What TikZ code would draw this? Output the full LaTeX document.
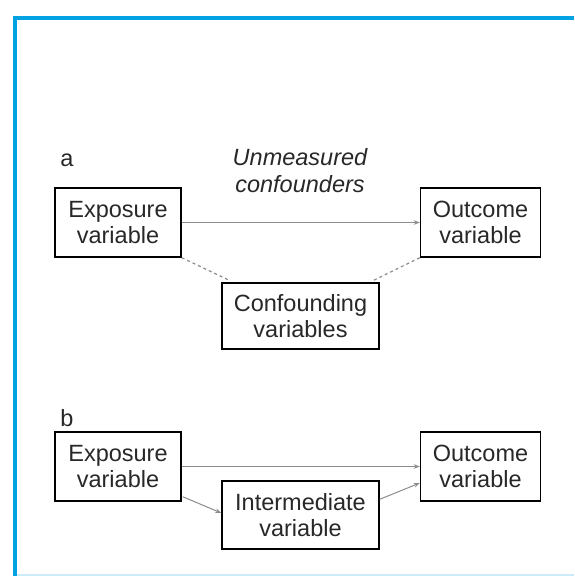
\documentclass[tikz,border=0pt]{standalone}
\usepackage{fontspec}
\setmainfont{Liberation Sans}
\usetikzlibrary{calc,arrows.meta}
\definecolor{frameblue}{RGB}{0,162,226}
\definecolor{framepale}{RGB}{205,236,250}
\definecolor{linkgray}{RGB}{140,140,140}
\definecolor{inkgray}{RGB}{40,40,40}
\tikzset{
  varbox/.style={draw=black, line width=1.4pt, align=center, inner sep=0pt,
    text=inkgray, font=\fontsize{23.5}{25.5}\selectfont},
  panellabel/.style={text=inkgray, font=\fontsize{23.5}{25.5}\selectfont, inner sep=0pt},
  link/.style={draw=linkgray, line width=1pt, -{Stealth[length=6pt,width=4.5pt]}},
  confoundlink/.style={draw=linkgray, line width=1.2pt, dash pattern=on 3pt off 3pt}
}
\begin{document}
\begin{tikzpicture}[x=1pt, y=-1pt]
  \useasboundingbox (0,0) rectangle (574,576);
  \fill[white] (0,0) rectangle (574,576);
  % frame
  \fill[frameblue] (13,16) rectangle (574,20);
  \fill[frameblue] (13,16) rectangle (17,576);
  \fill[framepale] (17,573.5) rectangle (574,576);

  % panel a
  \node[panellabel] (la) at (67,160) {a};
  \node[panellabel, align=center, font=\fontsize{23.5}{27}\selectfont\itshape] (um) at (300,171) {Unmeasured\\confounders};
  \node[varbox, minimum width=126pt, minimum height=69pt] (ea) at (118,222.5) {Exposure\\variable};
  \node[varbox, minimum width=120pt, minimum height=69pt] (oa) at (480.5,222.5) {Outcome\\variable};
  \node[varbox, minimum width=157pt, minimum height=66pt] (cf) at (300.5,316) {Confounding\\variables};
  \coordinate (cfl) at ($(cf.north west)+(8,-2)$);
  \coordinate (cfr) at ($(cf.north east)+(-6,-2)$);
  \draw[link] (ea.east) -- (oa.west);
  \draw[confoundlink] (ea.south east) -- (cfl);
  \draw[confoundlink] (oa.south west) -- (cfr);

  % panel b
  \node[panellabel] (lb) at (67,418) {b};
  \node[varbox, minimum width=126pt, minimum height=69pt] (eb) at (118,466.5) {Exposure\\variable};
  \node[varbox, minimum width=120pt, minimum height=69pt] (ob) at (480.5,466.5) {Outcome\\variable};
  \node[varbox, minimum width=157pt, minimum height=68pt] (im) at (300.5,515) {Intermediate\\variable};
  \coordinate (ebout) at ($(eb.south east)+(1,-5)$);
  \coordinate (imin) at ($(im.west)+(0,-2)$);
  \coordinate (imout) at ($(im.north east)+(0,19)$);
  \coordinate (obin) at ($(ob.west)+(0,16.5)$);
  \draw[link] (eb.east) -- (ob.west);
  \draw[link] (ebout) -- (imin);
  \draw[link] (imout) -- (obin);
\end{tikzpicture}
\end{document}
